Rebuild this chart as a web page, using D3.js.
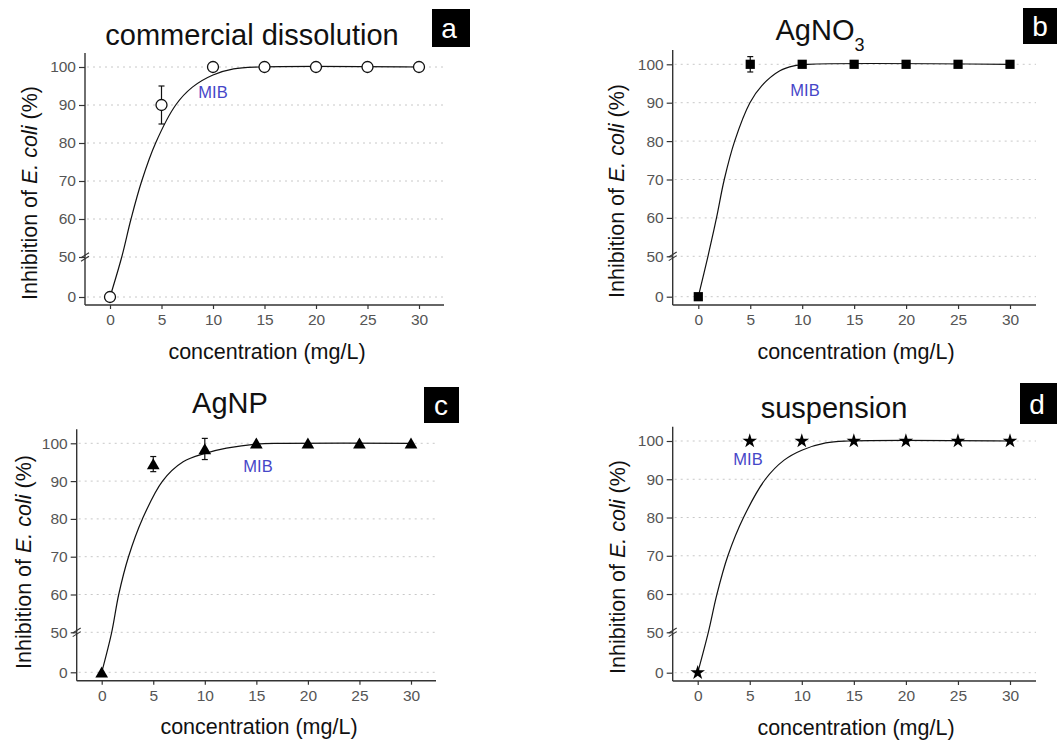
<!DOCTYPE html>
<html><head><meta charset="utf-8">
<script src="https://cdn.jsdelivr.net/npm/d3@7"></script>
<style>body{margin:0;background:#fff} svg{display:block;font-family:"Liberation Sans",Arial,sans-serif}</style>
</head><body><svg id="chart" width="1057" height="740"></svg>
<script>
// ---------- data ----------
const concentrations = [0, 5, 10, 15, 20, 25, 30];
const xTicks = [0, 5, 10, 15, 20, 25, 30];
const yTicks = [0, 50, 60, 70, 80, 90, 100];

const inhibA = [0, 90, 100, 100, 100, 100, 100];
const errA   = [0, 5, 0, 0, 0, 0, 0];
const inhibB = [0, 100, 100, 100, 100, 100, 100];
const errB   = [0, 2, 0, 0, 0, 0, 0];
const inhibC = [0, 94.5, 98.5, 100, 100, 100, 100];
const errC   = [0, 2, 2.8, 0, 0, 0, 0];
const inhibD = [0, 100, 100, 100, 100, 100, 100];
const errD   = [0, 0, 0, 0, 0, 0, 0];

// fitted curves
const fitAx = [0, 1.14, 2.04, 3.08, 4.43, 6.38, 8.0, 10, 12, 14.5, 30];
const fitAy = [0, 50, 60, 70, 80, 90, 94.7, 97.9, 99.5, 100, 100];
const fitBx = [0, 0.93, 1.75, 2.5, 3.5, 4.97, 6.1, 7.85, 9.2, 10.5, 30];
const fitBy = [0, 50, 60, 70, 80, 90, 94.4, 98.3, 99.6, 100, 100];
const fitCx = [0, 0.97, 1.65, 2.6, 3.95, 5.9, 7.9, 10, 12.1, 15, 17.5, 30];
const fitCy = [0, 50, 60, 70, 80, 90, 95.1, 97.3, 98.7, 99.8, 100, 100];
const fitDx = [0, 1.02, 1.85, 2.9, 4.4, 6.5, 8.3, 10, 12.3, 14.5, 30];
const fitDy = [0, 50, 60, 70, 80, 90, 95, 97.6, 99.5, 100, 100];

const titles = ["commercial dissolution", "AgNO", "AgNP", "suspension"];
const letters = ["a", "b", "c", "d"];
const mibLabel = "MIB";
const xTitle = "concentration (mg/L)";

// ---------- layout ----------
const layouts = [
  {axisX:85, x0:110, x30:419, xRight:444, yTop:53, yBottom:305, y0:297, y50:257, y100:67,
   title:{x:252, y:45}, box:{x:432, y:9, w:38, h:38}, mib:{x:213, y:98}, ytl:{x:29, y:193}, xtl:{x:267, y:359}},
  {axisX:672.7, x0:698.3, x30:1010, xRight:1036, yTop:50, yBottom:305, y0:296.7, y50:256.3, y100:64.3,
   title:{x:820, y:40}, box:{x:1023, y:8, w:36, h:36}, mib:{x:805, y:96}, ytl:{x:616, y:191}, xtl:{x:856, y:359}},
  {axisX:76.7, x0:101.7, x30:411, xRight:436, yTop:429.3, yBottom:680.7, y0:672.3, y50:632.3, y100:443.3,
   title:{x:230, y:412.7}, box:{x:424, y:387, w:35, h:36}, mib:{x:258, y:471.5}, ytl:{x:22.5, y:562}, xtl:{x:259, y:734}},
  {axisX:672.7, x0:697.7, x30:1010, xRight:1036, yTop:426.7, yBottom:681, y0:672.7, y50:632.3, y100:441,
   title:{x:834, y:418}, box:{x:1020, y:383, w:40, h:41}, mib:{x:748, y:465}, ytl:{x:617, y:567}, xtl:{x:856, y:735}}
];

const series = [
  {vals:inhibA, err:errA, fx:fitAx, fy:fitAy, marker:"circle"},
  {vals:inhibB, err:errB, fx:fitBx, fy:fitBy, marker:"square"},
  {vals:inhibC, err:errC, fx:fitCx, fy:fitCy, marker:"triangle"},
  {vals:inhibD, err:errD, fx:fitDx, fy:fitDy, marker:"star"}
];

const svg = d3.select("#chart");
svg.append("rect").attr("width",1057).attr("height",740).attr("fill","#fff");

series.forEach((s, i) => {
  const L = layouts[i];
  const g = svg.append("g");
  const x = d3.scaleLinear().domain([0,30]).range([L.x0, L.x30]);
  const y = d3.scaleLinear().domain([0,50,100]).range([L.y0, L.y50, L.y100]);

  // grid
  g.selectAll(".grid").data(yTicks).enter().append("line")
    .attr("x1", L.axisX + 2).attr("x2", L.xRight)
    .attr("y1", d => y(d)).attr("y2", d => y(d))
    .attr("stroke", "#c8c8c8").attr("stroke-width", 1).attr("stroke-dasharray", "2,4");

  // axes
  const ya = g.append("g").attr("transform", `translate(${L.axisX},0)`)
    .call(d3.axisLeft(y).tickValues(yTicks).tickSize(6).tickPadding(3));
  const xa = g.append("g").attr("transform", `translate(0,${L.yBottom})`)
    .call(d3.axisBottom(x).tickValues(xTicks).tickSize(4).tickPadding(5));
  [ya, xa].forEach(a => {
    a.select(".domain").remove();
    a.selectAll("line").attr("stroke", "#333").attr("stroke-width", 1.2);
    a.selectAll("text").attr("fill", "#555").style("font-size", "15.5px")
      .style("font-family", '"Liberation Sans",Arial,sans-serif');
  });
  g.append("line").attr("x1", L.axisX).attr("x2", L.axisX).attr("y1", L.yTop).attr("y2", L.yBottom)
    .attr("stroke", "#333").attr("stroke-width", 1.4);
  g.append("line").attr("x1", L.axisX).attr("x2", L.xRight).attr("y1", L.yBottom).attr("y2", L.yBottom)
    .attr("stroke", "#333").attr("stroke-width", 1.4);
  // axis break marks
  [-1.8, 1.8].forEach(o => {
    g.append("line").attr("x1", L.axisX - 4).attr("x2", L.axisX + 4)
      .attr("y1", y(50) + o + 2.5).attr("y2", y(50) + o - 2.5)
      .attr("stroke", "#333").attr("stroke-width", 1.1);
  });

  // fitted curve
  const pts = s.fx.map((v, k) => [v, s.fy[k]]);
  g.append("path").datum(pts)
    .attr("d", d3.line().x(d => x(d[0])).y(d => y(d[1])).curve(d3.curveCatmullRom.alpha(0.5)))
    .attr("fill", "none").attr("stroke", "#111").attr("stroke-width", 1.2);

  // error bars
  const data = concentrations.map((c, k) => ({c, v: s.vals[k], e: s.err[k]}));
  const eb = g.selectAll(".eb").data(data.filter(d => d.e > 0)).enter().append("g")
    .attr("stroke", "#111").attr("stroke-width", 1.2);
  eb.append("line").attr("x1", d => x(d.c)).attr("x2", d => x(d.c))
    .attr("y1", d => y(d.v - d.e)).attr("y2", d => y(d.v + d.e));
  eb.append("line").attr("x1", d => x(d.c) - 3).attr("x2", d => x(d.c) + 3)
    .attr("y1", d => y(d.v - d.e)).attr("y2", d => y(d.v - d.e));
  eb.append("line").attr("x1", d => x(d.c) - 3).attr("x2", d => x(d.c) + 3)
    .attr("y1", d => y(d.v + d.e)).attr("y2", d => y(d.v + d.e));

  // markers
  const mk = g.selectAll(".mk").data(data).enter();
  if (s.marker === "circle") {
    mk.append("circle").attr("cx", d => x(d.c)).attr("cy", d => y(d.v)).attr("r", 5.5)
      .attr("fill", "#fff").attr("stroke", "#111").attr("stroke-width", 1.3);
  } else {
    const sym = {square: [d3.symbolSquare, 85], triangle: [d3.symbolTriangle, 70], star: [d3.symbolStar, 66]}[s.marker];
    mk.append("path").attr("d", d3.symbol().type(sym[0]).size(sym[1]))
      .attr("transform", d => `translate(${x(d.c)},${y(d.v) + (s.marker === "triangle" ? 1.5 : 0)})`)
      .attr("fill", "#000");
  }

  // MIB label
  g.append("text").attr("x", L.mib.x).attr("y", L.mib.y).attr("text-anchor", "middle")
    .attr("fill", "#4646c8").style("font-size", "16.5px").text(mibLabel);

  // title
  const t = g.append("text").attr("x", L.title.x).attr("y", L.title.y).attr("text-anchor", "middle")
    .attr("fill", "#111").style("font-size", "29px").text(titles[i]);
  if (i === 1) {
    t.append("tspan").attr("dy", 11).style("font-size", "18px").text("3");
  }

  // letter box
  g.append("rect").attr("x", L.box.x).attr("y", L.box.y).attr("width", L.box.w).attr("height", L.box.h).attr("fill", "#000");
  g.append("text").attr("x", L.box.x + 17).attr("y", L.box.y + L.box.h / 2 + 10).attr("text-anchor", "middle")
    .attr("fill", "#fff").style("font-size", "28px").text(letters[i]);

  // axis titles
  g.append("text").attr("x", L.xtl.x).attr("y", L.xtl.y).attr("text-anchor", "middle")
    .attr("fill", "#111").style("font-size", "21.5px").text(xTitle);
  const yt = g.append("text").attr("transform", `translate(${L.ytl.x + 8},${L.ytl.y}) rotate(-90)`)
    .attr("text-anchor", "middle").attr("fill", "#111").style("font-size", "21.5px");
  yt.append("tspan").text("Inhibition of ");
  yt.append("tspan").style("font-style", "italic").text("E. coli");
  yt.append("tspan").text(" (%)");
});
</script></body></html>
